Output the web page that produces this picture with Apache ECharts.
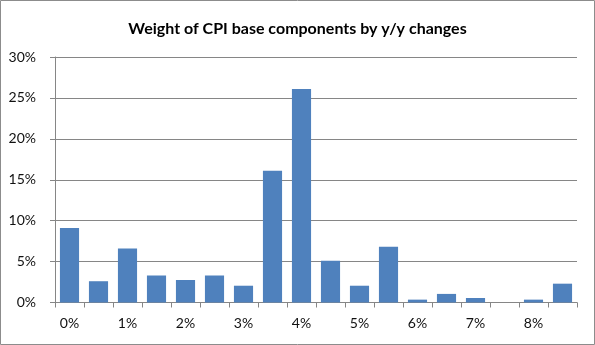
<!DOCTYPE html>
<html>
<head>
<meta charset="utf-8">
<script src="https://cdn.jsdelivr.net/npm/echarts@6/dist/echarts.min.js"></script>
<style>
  html, body { margin: 0; padding: 0; background: #fff; }
  #chart { width: 595px; height: 345px; }
</style>
</head>
<body>
<div id="chart"></div>
<script>
// y/y change buckets, in half-percent steps
const categories = ['0%', '0.5%', '1%', '1.5%', '2%', '2.5%', '3%', '3.5%', '4%',
                    '4.5%', '5%', '5.5%', '6%', '6.5%', '7%', '7.5%', '8%', '8.5%'];
// share of the CPI basket in each bucket, %
const weights = [9.1, 2.6, 6.6, 3.3, 2.75, 3.3, 2.05, 16.1, 26.1,
                 5.1, 2.05, 6.8, 0.35, 1.05, 0.55, 0, 0.35, 2.3];
const yTicks = [0, 5, 10, 15, 20, 25, 30];

const axisGray = '#868686';
const textColor = '#111';
const font = 'Lato, Open Sans, sans-serif';

const chart = echarts.init(document.getElementById('chart'), null, { renderer: 'canvas' });
chart.setOption({
  animation: false,
  backgroundColor: '#fff',
  title: {
    text: 'Weight of CPI base components by y/y changes',
    left: 'center',
    top: 16,
    textStyle: { fontFamily: font, fontSize: 16, fontWeight: 'bold', color: '#000' }
  },
  graphic: [{
    type: 'rect',
    shape: { x: 0.5, y: 0.5, width: 594, height: 344 },
    style: { fill: 'none', stroke: '#8c8c8c', lineWidth: 1 },
    silent: true
  }],
  grid: { left: 55, right: 18, top: 57, bottom: 42.5, containLabel: false },
  xAxis: {
    type: 'category',
    data: categories,
    axisLine: { lineStyle: { color: axisGray, width: 1 } },
    axisTick: { show: true, interval: 0, length: 5, lineStyle: { color: axisGray } },
    axisLabel: {
      interval: 1,
      margin: 14,
      fontFamily: font, fontSize: 14, color: textColor,
      formatter: (v) => v
    }
  },
  yAxis: {
    type: 'value',
    min: yTicks[0],
    max: yTicks[yTicks.length - 1],
    interval: 5,
    axisLine: { show: true, lineStyle: { color: axisGray, width: 1 } },
    axisTick: { show: true, length: 5, lineStyle: { color: axisGray } },
    splitLine: { show: true, lineStyle: { color: axisGray, width: 1 } },
    axisLabel: {
      margin: 19,
      fontFamily: font, fontSize: 14, color: textColor,
      formatter: (v) => v + '%'
    }
  },
  series: [{
    type: 'bar',
    data: weights,
    barCategoryGap: '34%',
    itemStyle: { color: '#4F81BD' }
  }]
});
</script>
</body>
</html>
